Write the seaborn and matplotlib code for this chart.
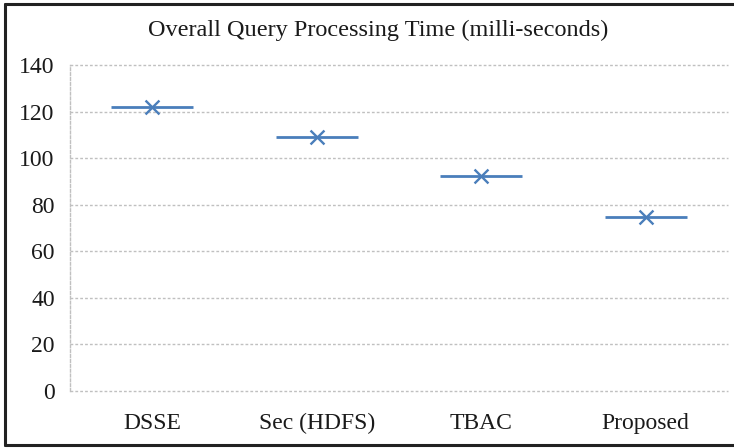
import matplotlib
matplotlib.use("Agg")
import matplotlib.pyplot as plt
import seaborn as sns
import pandas as pd
from matplotlib.lines import Line2D

categories = ["DSSE", "Sec (HDFS)", "TBAC", "Proposed"]
values = [122, 109, 92.5, 74.8]
y_ticks = [0, 20, 40, 60, 80, 100, 120, 140]
title = "Overall Query Processing Time (milli-seconds)"

sns.set_theme(style="white")
plt.rcParams["font.family"] = ["Liberation Serif", "DejaVu Serif"]

df = pd.DataFrame({"cat": categories, "val": values})
df["pos"] = range(len(categories))

W, H = 734, 448
fig = plt.figure(figsize=(W / 100, H / 100), dpi=100)
fig.patch.set_linewidth(0)
fig.patch.set_edgecolor("white")
ax = fig.add_axes([70 / W, 1 - 391 / H, 658 / W, 326 / H])

color = "#4A7EBB"
ax.errorbar(df["pos"], df["val"], xerr=0.25, fmt="none", ecolor=color,
            elinewidth=2, capsize=0, zorder=3)
sns.scatterplot(data=df, x="pos", y="val", marker="x", s=100, color=color,
                linewidth=1.7, ax=ax, zorder=4)

ax.set_xlim(-0.5, 3.5)
ax.set_ylim(0, 140)
ax.set_yticks(y_ticks)
ax.set_yticklabels([str(t) for t in y_ticks], fontsize=17)
ax.set_xticks(df["pos"])
ax.set_xticklabels(categories, fontsize=17)
ax.tick_params(axis="both", length=0, colors="#1a1a1a")
ax.tick_params(axis="y", pad=11)
ax.tick_params(axis="x", pad=16)
ax.set_xlabel("")
ax.set_ylabel("")
ax.yaxis.grid(True, linestyle=(0, (2, 1.5)), color="#c0c0c0", linewidth=1)
ax.xaxis.grid(False)
for gl in ax.get_ygridlines():
    gl.set_clip_on(False)
for side in ["top", "right", "bottom"]:
    ax.spines[side].set_visible(False)
ax.spines["left"].set_linestyle((0, (2, 1.5)))
ax.spines["left"].set_color("#c0c0c0")
ax.spines["left"].set_linewidth(1)
ax.set_axisbelow(True)

fig.text(378 / W, 1 - 30 / H, title, ha="center", va="center", fontsize=17.5,
         color="#1a1a1a")

# outer frame (left, top, bottom; right side is cut off in the reference)
fx0, fx1 = 5 / W, 1.01
fy0, fy1 = 1 - 445 / H, 1 - 4 / H
for xs, ys in [([fx0, fx0], [fy0, fy1]), ([fx0, fx1], [fy1, fy1]),
               ([fx0, fx1], [fy0, fy0])]:
    fig.add_artist(Line2D(xs, ys, transform=fig.transFigure,
                          color="#222222", linewidth=2.2))

fig.savefig("out.png", dpi=100, edgecolor="white")
